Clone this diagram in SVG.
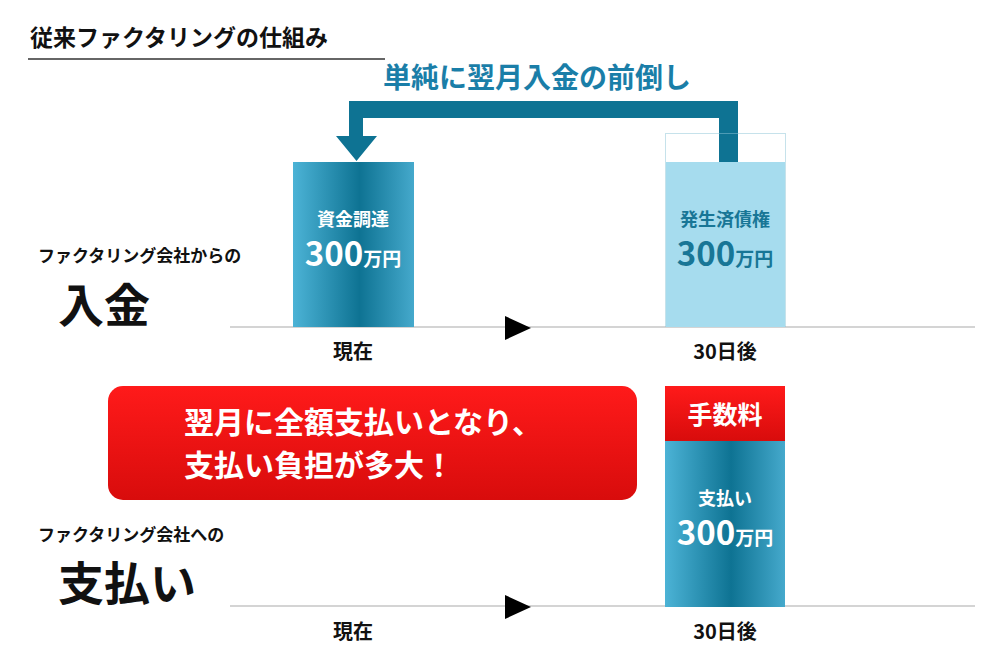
<svg xmlns="http://www.w3.org/2000/svg" width="1000" height="653" viewBox="0 0 1000 653">
<defs>
<linearGradient id="bg" x1="0" x2="1" y1="0" y2="0">
<stop offset="0" stop-color="#4cb3d6"/><stop offset="0.55" stop-color="#0e7393"/><stop offset="1" stop-color="#45a9cc"/>
</linearGradient>
<linearGradient id="rg" x1="0" x2="0" y1="0" y2="1">
<stop offset="0" stop-color="#ff1a1a"/><stop offset="1" stop-color="#d80c0c"/>
</linearGradient>
<style>
text{font-family:"Noto Sans CJK JP","Noto Sans",sans-serif;font-weight:bold}
.ax{stroke:#aaa;stroke-width:1.2}
.w{fill:#fff}
</style>
</defs>
<rect width="1000" height="653" fill="#fff"/>
<text x="30" y="46" font-size="23" fill="#111">従来ファクタリングの仕組み</text>
<line x1="28" y1="59" x2="385" y2="59" stroke="#333" stroke-width="1.5"/>
<text x="537" y="88" font-size="28" fill="#1a7ea8" text-anchor="middle">単純に翌月入金の前倒し</text>
<g id="connectors">
<path d="M738 162 V101 H349 V136 H336 L356.5 161 L377 136 H363 V118 H719 V162 Z" fill="#0e7393"/>
<line class="ax" x1="230" y1="327" x2="975" y2="327"/>
<line class="ax" x1="230" y1="606" x2="975" y2="606"/>
<path d="M505 316 L531 328 L505 340 Z" fill="#000"/>
<path d="M505 595 L531 607 L505 619 Z" fill="#000"/>
</g>
<g id="left-label-top">
<text x="38" y="262" font-size="17" fill="#111">ファクタリング会社からの</text>
<text x="58" y="322" font-size="46" fill="#111">入金</text>
</g>
<g id="bar-shikin">
<rect x="293" y="162" width="121" height="165" fill="url(#bg)"/>
<text x="353" y="226" font-size="18" class="w" text-anchor="middle">資金調達</text>
<text x="353" y="266" text-anchor="middle" class="w"><tspan font-size="33">300</tspan><tspan font-size="19">万円</tspan></text>
</g>
<g id="bar-saiken">
<rect x="665.5" y="133.5" width="120" height="193" fill="none" stroke="#8cc4d6" stroke-dasharray="1 1"/>
<rect x="666" y="162" width="119" height="165" fill="#a6dcee"/>
<text x="725" y="226" font-size="18" fill="#187696" text-anchor="middle">発生済債権</text>
<text x="725" y="266" text-anchor="middle" fill="#187696"><tspan font-size="33">300</tspan><tspan font-size="19">万円</tspan></text>
</g>
<text x="353" y="359" font-size="20" fill="#111" text-anchor="middle">現在</text>
<text x="725" y="359" font-size="20" fill="#111" text-anchor="middle">30日後</text>
<g id="callout">
<rect x="108" y="386" width="529" height="114" rx="15" fill="url(#rg)"/>
<text x="184" y="433" font-size="30" class="w">翌月に全額支払いとなり、</text>
<text x="184" y="476" font-size="30" class="w">支払い負担が多大！</text>
</g>
<g id="left-label-bottom">
<text x="38" y="541" font-size="17" fill="#111">ファクタリング会社への</text>
<text x="58" y="600" font-size="46" fill="#111">支払い</text>
</g>
<g id="bar-fee">
<rect x="665" y="386" width="120" height="55" fill="url(#rg)"/>
<text x="725" y="424" font-size="25" class="w" text-anchor="middle">手数料</text>
</g>
<g id="bar-pay">
<rect x="665" y="441" width="120" height="166" fill="url(#bg)"/>
<text x="725" y="505" font-size="18" class="w" text-anchor="middle">支払い</text>
<text x="725" y="545" text-anchor="middle" class="w"><tspan font-size="33">300</tspan><tspan font-size="19">万円</tspan></text>
</g>
<text x="353" y="639" font-size="20" fill="#111" text-anchor="middle">現在</text>
<text x="725" y="639" font-size="20" fill="#111" text-anchor="middle">30日後</text>
</svg>
